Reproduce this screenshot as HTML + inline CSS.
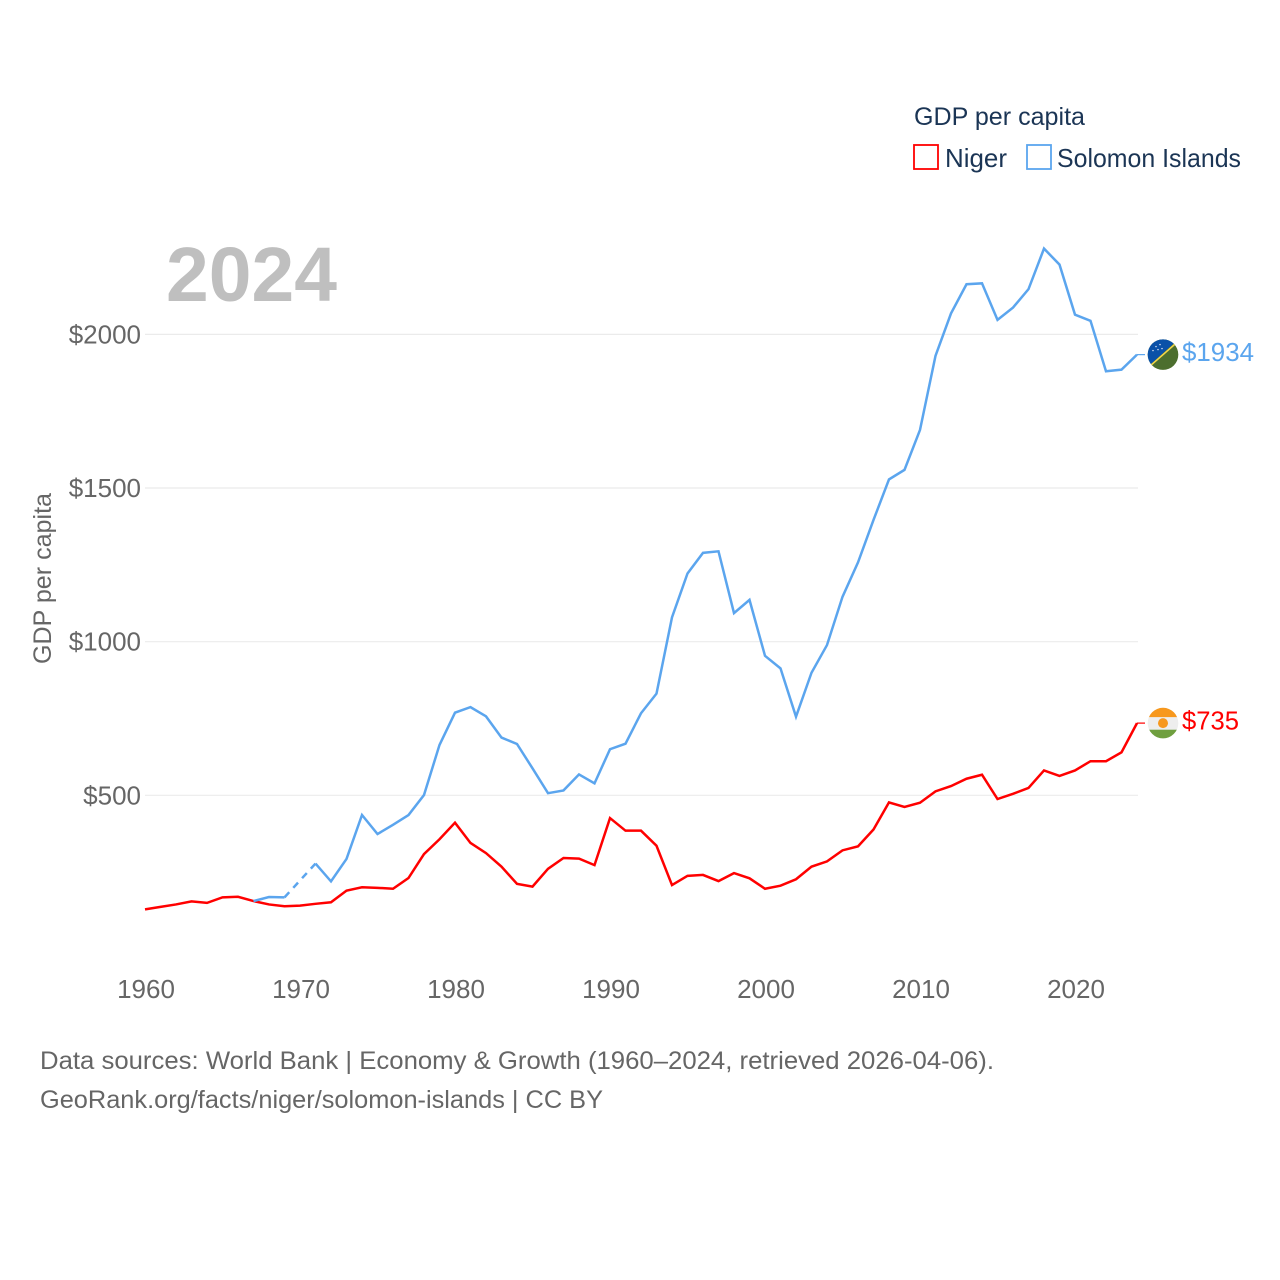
<!DOCTYPE html>
<html lang="en">
<head>
<meta charset="utf-8">
<title>GDP per capita: Niger and Solomon Islands</title>
<style>
html,body{margin:0;padding:0;background:#fff;}
svg{display:block;font-family:"Liberation Sans",sans-serif;}
</style>
</head>
<body>
<svg id="chart" width="1280" height="1280" viewBox="0 0 1280 1280" xmlns="http://www.w3.org/2000/svg">
  <defs>
    <clipPath id="flag-clip"><circle cx="0" cy="0" r="15.3"></circle></clipPath>
  </defs>
  <rect x="0" y="0" width="1280" height="1280" fill="#ffffff"></rect>

  <g id="grid"></g>
  <g id="y-ticks"></g>
  <g id="x-ticks"></g>

  <text x="166" y="301" font-size="77" font-weight="700" fill="#bfbfbf" textLength="171" lengthAdjust="spacingAndGlyphs">2024</text>

  <text transform="translate(51,664) rotate(-90)" font-size="25" fill="#666666" textLength="171" lengthAdjust="spacingAndGlyphs">GDP per capita</text>

  <g id="series"></g>

  <g id="niger-flag">
    <g clip-path="url(#flag-clip)">
      <rect x="-16" y="-16" width="32" height="32" fill="#eeeeee"></rect>
      <rect x="-16" y="-16" width="32" height="10" fill="#f7981d"></rect>
      <rect x="-16" y="6.6" width="32" height="10" fill="#6f9f3f"></rect>
      <circle cx="0" cy="0" r="5" fill="#f7981d"></circle>
    </g>
  </g>

  <g id="solomon-flag">
    <g clip-path="url(#flag-clip)">
      <rect x="-16" y="-16" width="32" height="32" fill="#4c6e2e"></rect>
      <polygon points="-16,-16 16,-16 16,-16 -16,13" fill="#0a51a8"></polygon>
      <line x1="-16" y1="14" x2="16" y2="-14" stroke="#f2d54a" stroke-width="1.6"></line>
      <circle cx="-7" cy="-8" r="0.7" fill="#dfe8f5"></circle>
      <circle cx="-3" cy="-10" r="0.7" fill="#dfe8f5"></circle>
      <circle cx="-5" cy="-5" r="0.7" fill="#dfe8f5"></circle>
      <circle cx="-10" cy="-4" r="0.7" fill="#dfe8f5"></circle>
      <circle cx="-1" cy="-6" r="0.7" fill="#dfe8f5"></circle>
    </g>
  </g>

  <text id="niger-value" x="1182" font-size="26" fill="#ff0000" textLength="57" lengthAdjust="spacingAndGlyphs"></text>
  <text id="solomon-value" x="1182" font-size="26" fill="#5ba5ee" textLength="72" lengthAdjust="spacingAndGlyphs"></text>

  <g>
    <text x="914" y="125" font-size="25" fill="#1b3555" textLength="171" lengthAdjust="spacingAndGlyphs">GDP per capita</text>
    <g>
      <rect x="914" y="145" width="24" height="24" fill="none" stroke="#ff0000" stroke-width="1.8"></rect>
      <text x="945" y="167" font-size="26" fill="#1b3555" textLength="62" lengthAdjust="spacingAndGlyphs">Niger</text>
    </g>
    <g>
      <rect x="1027" y="145" width="24" height="24" fill="none" stroke="#5ba5ee" stroke-width="1.8"></rect>
      <text x="1057" y="167" font-size="26" fill="#1b3555" textLength="184" lengthAdjust="spacingAndGlyphs">Solomon Islands</text>
    </g>
  </g>

  <g>
    <text x="40" y="1069" font-size="25" fill="#666666" textLength="954" lengthAdjust="spacingAndGlyphs">Data sources: World Bank | Economy &amp; Growth (1960–2024, retrieved 2026-04-06).</text>
    <text x="40" y="1108" font-size="25" fill="#666666" textLength="563" lengthAdjust="spacingAndGlyphs">GeoRank.org/facts/niger/solomon-islands | CC BY</text>
  </g>
</svg>

<script>
const firstYear = 1960;
const yearTicks = [1960, 1970, 1980, 1990, 2000, 2010, 2020];
const valueTicks = [500, 1000, 1500, 2000];
const niger = [129,137,145,155,150,168,170,156,145,139,141,147,152,190,201,199,196,231,309,357,411,345,312,268,212,203,261,296,294,273,426,385,385,336,208,238,241,221,247,230,196,206,227,268,285,321,334,389,477,462,476,513,530,554,567,488,505,524,581,563,581,611,611,640,735];
const solomon = [null,null,null,null,null,null,null,156,169,168,null,278,220,293,436,374,404,436,501,664,769,787,757,688,667,588,507,516,568,539,650,668,767,831,1079,1222,1289,1294,1093,1136,954,913,756,899,989,1146,1258,1396,1528,1559,1689,1930,2068,2163,2166,2047,2087,2147,2279,2227,2064,2044,1880,1885,1934];

const NS = 'http://www.w3.org/2000/svg';
const xScale = function (year) { return 145 + (year - firstYear) * 15.5; };
const yScale = function (value) { return 949 - value * 0.30733; };
const plotRight = xScale(2024);
const gridRight = 1138;
const connectorEnd = 1145;
const red = '#ff0000';
const blue = '#5ba5ee';

function make(tag, attrs, parent) {
  const el = document.createElementNS(NS, tag);
  Object.keys(attrs).forEach(function (k) { el.setAttribute(k, attrs[k]); });
  parent.appendChild(el);
  return el;
}

const gridGroup = document.getElementById('grid');
const yGroup = document.getElementById('y-ticks');
valueTicks.forEach(function (v) {
  const line = make('line', { x1: 145, x2: gridRight, y1: yScale(v), y2: yScale(v), stroke: '#ebebeb', 'stroke-width': 1.2 }, gridGroup);
  
  
  const label = make('text', { x: 141, y: yScale(v) + 9, 'text-anchor': 'end', 'font-size': 26, fill: '#666666' }, yGroup);
  
  
  label.textContent = '$' + v;
});

const xGroup = document.getElementById('x-ticks');
yearTicks.forEach(function (year) {
  const label = make('text', { x: xScale(year) + 1, y: 998, 'text-anchor': 'middle', 'font-size': 26, fill: '#666666' }, xGroup);
  
  
  label.textContent = year;
});

function pointAt(index, values) {
  return xScale(firstYear + index).toFixed(2) + ',' + yScale(values[index]).toFixed(2);
}

const seriesGroup = document.getElementById('series');

function drawSeries(values, color, key) {
  let run = [];
  let lastIndex = null;
  function flush() {
    if (run.length > 1) {
      const solid = make('polyline', { points: run.join(' '), fill: 'none', stroke: color, 'stroke-width': 2.5, 'stroke-linejoin': 'miter' }, seriesGroup);
      
      
    }
    run = [];
  }
  values.forEach(function (value, i) {
    if (value === null) { return; }
    if (lastIndex !== null && i - lastIndex > 1) {
      flush();
      const gap = make('polyline', { points: pointAt(lastIndex, values) + ' ' + pointAt(i, values), fill: 'none', stroke: color, 'stroke-width': 2.5, 'stroke-dasharray': '7 6' }, seriesGroup);
      
      
    }
    run.push(pointAt(i, values));
    lastIndex = i;
  });
  flush();
  const end = yScale(values[values.length - 1]);
  const connector = make('line', { x1: plotRight, x2: connectorEnd, y1: end, y2: end, stroke: color, 'stroke-width': 1.2 }, seriesGroup);
  
  
}

drawSeries(niger, red, 'niger');
drawSeries(solomon, blue, 'solomon-islands');

function placeEnd(values, flagId, labelId) {
  const last = values[values.length - 1];
  const y = yScale(last);
  document.getElementById(flagId).setAttribute('transform', 'translate(1163,' + y.toFixed(2) + ')');
  const label = document.getElementById(labelId);
  label.setAttribute('y', (y + 6.5).toFixed(2));
  label.textContent = '$' + last;
}
placeEnd(niger, 'niger-flag', 'niger-value');
placeEnd(solomon, 'solomon-flag', 'solomon-value');
</script>
</body>
</html>
